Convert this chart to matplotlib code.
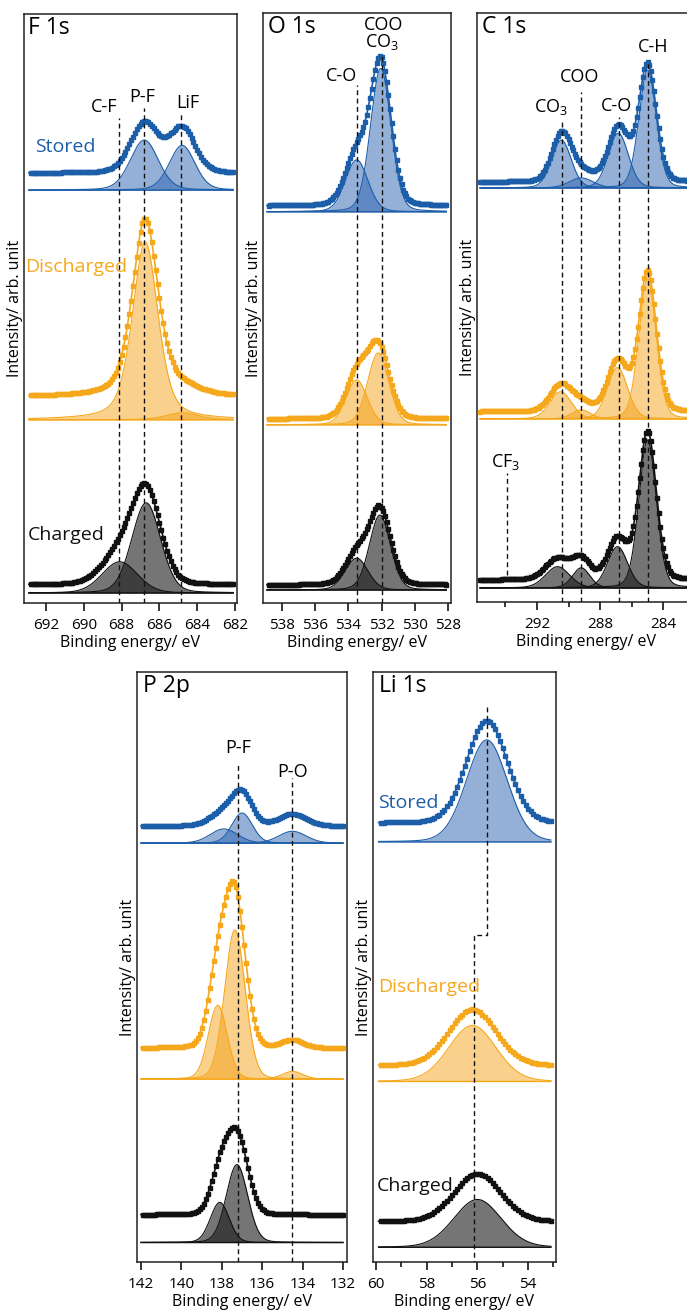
import numpy as np
import matplotlib.pyplot as plt

plt.rcParams['font.family'] = ['Open Sans', 'DejaVu Sans']
plt.rcParams['mathtext.fontset'] = 'custom'
plt.rcParams['mathtext.rm'] = 'Open Sans'
plt.rcParams['mathtext.default'] = 'regular'

BLUE = '#1d5ea9'
ORANGE = '#f6a81c'
BLACK = '#111111'
LINE_COL = [BLUE, ORANGE, BLACK]
FILL_COL = ['#2d62b0', '#f5a21a', '#1a1a1a']
FILL_ALPHA = [0.5, 0.5, 0.6]
STATES = ['Stored', 'Discharged', 'Charged']

# ---- peak parameters (rows: stored, discharged, charged)
# F 1s : C-F, P-F, LiF
f1s_pos = [[688.1, 686.8, 684.8], [688.1, 686.75, 684.8], [688.1, 686.7, 684.8]]
f1s_amp = [[0.0, 8.5, 7.6], [0.0, 30.2, 1.2], [5.3, 15.3, 0.0]]
f1s_fwhm = [[1.8, 1.75, 1.6], [1.8, 1.6, 2.0], [2.2, 1.8, 1.6]]
f1s_eta = [0.2, 0.45, 0.15]
f1s_base = [70.1, 31.1, 1.7]
f1s_lift = [2.9, 3.9, 1.4]

# O 1s : C-O, COO/CO3
o1s_pos = [[533.5, 532.05], [533.5, 532.2], [533.5, 532.1]]
o1s_amp = [[8.8, 24.3], [7.6, 12.2], [5.4, 12.7]]
o1s_fwhm = [[1.6, 1.45], [1.5, 1.5], [1.6, 1.5]]
o1s_eta = [0.15, 0.15, 0.15]
o1s_base = [66.3, 30.2, 2.2]
o1s_lift = [1.0, 1.0, 0.85]

# C 1s : CO3, COO, C-O, C-H
c1s_pos = [[290.45, 289.2, 286.85, 285.0], [290.5, 289.2, 286.9, 285.0], [290.7, 289.2, 286.9, 285.0]]
c1s_amp = [[8.1, 1.7, 9.3, 20.0], [4.6, 1.5, 8.7, 23.8], [3.6, 3.4, 7.0, 25.1]]
c1s_fwhm = [[1.45, 1.8, 1.5, 1.3], [1.6, 1.4, 1.5, 1.3], [1.8, 1.3, 1.5, 1.3]]
c1s_eta = [0.15, 0.15, 0.15]
c1s_base = [70.3, 31.1, 2.4]
c1s_lift = [1.0, 1.2, 1.35]

# P 2p : P-F 2p1/2, P-F 2p3/2, P-O
p2p_pos = [[137.9, 137.0, 134.5], [138.2, 137.35, 134.5], [138.1, 137.25, 134.5]]
p2p_amp = [[2.4, 5.1, 2.0], [12.5, 25.3, 1.3], [6.8, 13.2, 0.0]]
p2p_fwhm = [[1.6, 1.2, 1.6], [1.1, 1.2, 1.2], [1.1, 1.25, 1.0]]
p2p_eta = [0.1, 0.1, 0.1]
p2p_base = [71.0, 31.0, 3.3]
p2p_lift = [2.9, 5.25, 4.7]

# Li 1s
li1s_pos = [[55.63], [56.2], [56.0]]
li1s_amp = [[17.3], [9.5], [8.1]]
li1s_fwhm = [[1.9], [2.2], [2.2]]
li1s_eta = [0.1, 0.1, 0.1]
li1s_base = [71.2, 30.6, 2.5]
li1s_lift = [3.2, 2.7, 4.35]

FIG_W, FIG_H = 687, 1311
LBL = 13


def pv(x, c, a, w, eta):
    u = (x - c) ** 2 / w ** 2
    return a * ((1 - eta) * np.exp(-4 * np.log(2) * u) + eta / (1 + 4 * u))


def make_ax(fig, left, top, w, h, xlim):
    ax = fig.add_axes([left / FIG_W, 1 - (top + h) / FIG_H, w / FIG_W, h / FIG_H])
    ax.set_xlim(*xlim)
    ax.set_ylim(0, 100)
    ax.set_yticks([])
    for s in ax.spines.values():
        s.set_linewidth(1.1)
        s.set_color('#222222')
    ax.tick_params(axis='x', direction='out', length=6, width=1.1, labelsize=11, pad=5)
    ax.tick_params(axis='x', which='minor', direction='out', length=3.5, width=1.1)
    ax.set_xlabel('Binding energy/ eV', fontsize=11.5, labelpad=1)
    ax.text(-9 / w, 0.5, 'Intensity/ arb. unit', rotation=90, ha='center', va='center',
            fontsize=11.5, transform=ax.transAxes)
    return ax


def draw_spectra(ax, pos, amp, fwhm, eta, base, lift, xr, step=0.1):
    x = np.linspace(xr[0], xr[1], 1200)
    xd = np.arange(xr[1], xr[0], step)
    for k in range(3):
        b = base[k]
        ax.plot(x, np.full_like(x, b), color=LINE_COL[k], lw=1.0, zorder=3)
        tot = np.zeros_like(x)
        totd = np.zeros_like(xd)
        for c, a, w in zip(pos[k], amp[k], fwhm[k]):
            if a <= 0:
                continue
            y = pv(x, c, a, w, eta[k])
            tot += y
            totd += pv(xd, c, a, w, eta[k])
            ax.fill_between(x, b, b + y, color=FILL_COL[k], alpha=FILL_ALPHA[k], lw=0, zorder=2)
            ax.plot(x, b + y, color=LINE_COL[k], lw=0.8, zorder=3)
        ax.plot(x, b + lift[k] + tot, color=LINE_COL[k], lw=1.2, zorder=4)
        ax.plot(xd, b + lift[k] + totd, ls='none', marker='s', ms=2.3,
                color=LINE_COL[k], zorder=4)


def vline(ax, x, y0, y1=0):
    ax.plot([x, x], [y1, y0], color=BLACK, lw=1.0, ls=(0, (3.5, 2.5)), zorder=5)


def title(ax, s, xf):
    ax.text(xf, 0.976, s, transform=ax.transAxes, fontsize=16.5, ha='left', va='center')


def state_labels(ax, pos):
    for k, (xf, yf) in enumerate(pos):
        ax.text(xf, yf, STATES[k], transform=ax.transAxes, color=LINE_COL[k],
                fontsize=14, ha='left', va='center', zorder=6)


fig = plt.figure(figsize=(FIG_W / 100, FIG_H / 100), dpi=100)

# F 1s
ax = make_ax(fig, 24, 14, 213, 589, (693.16, 681.9))
ax.set_xticks([692, 690, 688, 686, 684, 682])
draw_spectra(ax, f1s_pos, f1s_amp, f1s_fwhm, f1s_eta, f1s_base, f1s_lift, (692.9, 682.1))
vline(ax, 688.16, 82.3)
vline(ax, 686.84, 84.0)
vline(ax, 684.84, 83.2)
ax.text(688.9, 82.6, 'C-F', fontsize=LBL, ha='center', va='bottom')
ax.text(686.9, 84.3, 'P-F', fontsize=LBL, ha='center', va='bottom')
ax.text(684.5, 83.4, 'LiF', fontsize=LBL, ha='center', va='bottom')
title(ax, 'F 1s', 0.02)
state_labels(ax, [(0.052, 0.774), (0.005, 0.57), (0.019, 0.115)])

# O 1s
ax = make_ax(fig, 263, 13, 188, 590, (539.14, 527.82))
ax.set_xticks([538, 536, 534, 532, 530, 528])
draw_spectra(ax, o1s_pos, o1s_amp, o1s_fwhm, o1s_eta, o1s_base, o1s_lift, (538.9, 528.1))
vline(ax, 533.5, 87.8)
vline(ax, 532.0, 93.2)
ax.text(534.4, 89.4, 'C-O', fontsize=LBL, ha='center', va='center')
ax.text(531.9, 98.0, 'COO', fontsize=LBL, ha='center', va='center')
ax.text(532.0, 95.0, 'CO$_3$', fontsize=LBL, ha='center', va='center')
title(ax, 'O 1s', 0.027)

# C 1s
ax = make_ax(fig, 477, 13, 217, 589, (295.8, 282.06))
ax.set_xticks([292, 288, 284])
ax.set_xticks([294, 290, 286], minor=True)
draw_spectra(ax, c1s_pos, c1s_amp, c1s_fwhm, c1s_eta, c1s_base, c1s_lift, (295.6, 281.5))
vline(ax, 290.4, 81.5)
vline(ax, 289.2, 86.6)
vline(ax, 286.8, 82.3)
vline(ax, 285.0, 92.0)
vline(ax, 293.9, 21.9, 4.6)
ax.text(291.1, 84.0, 'CO$_3$', fontsize=LBL, ha='center', va='center')
ax.text(289.3, 89.1, 'COO', fontsize=LBL, ha='center', va='center')
ax.text(286.95, 84.2, 'C-O', fontsize=LBL, ha='center', va='center')
ax.text(284.66, 94.2, 'C-H', fontsize=LBL, ha='center', va='center')
ax.text(294.0, 23.8, 'CF$_3$', fontsize=LBL, ha='center', va='center')
title(ax, 'C 1s', 0.023)

# P 2p
ax = make_ax(fig, 137, 672, 210, 590, (142.2, 131.8))
ax.set_xticks([142, 140, 138, 136, 134, 132])
draw_spectra(ax, p2p_pos, p2p_amp, p2p_fwhm, p2p_eta, p2p_base, p2p_lift, (142.0, 132.0))
vline(ax, 137.2, 84.7)
vline(ax, 134.5, 82.0)
ax.text(137.2, 87.1, 'P-F', fontsize=LBL, ha='center', va='center')
ax.text(134.5, 83.1, 'P-O', fontsize=LBL, ha='center', va='center')
title(ax, 'P 2p', 0.029)

# Li 1s
ax = make_ax(fig, 373, 672, 183, 590, (60.12, 52.9))
ax.set_xticks([60, 58, 56, 54])
ax.set_xticks([59, 57, 55, 53], minor=True)
draw_spectra(ax, li1s_pos, li1s_amp, li1s_fwhm, li1s_eta, li1s_base, li1s_lift, (59.9, 53.1))
ax.plot([55.63, 55.63, 56.15, 56.15], [94.1, 55.4, 55.4, 0], color=BLACK, lw=1.0,
        ls=(0, (3.5, 2.5)), zorder=5)
title(ax, 'Li 1s', 0.033)
state_labels(ax, [(0.027, 0.778), (0.027, 0.466), (0.022, 0.129)])

fig.savefig('out.png', dpi=100)
